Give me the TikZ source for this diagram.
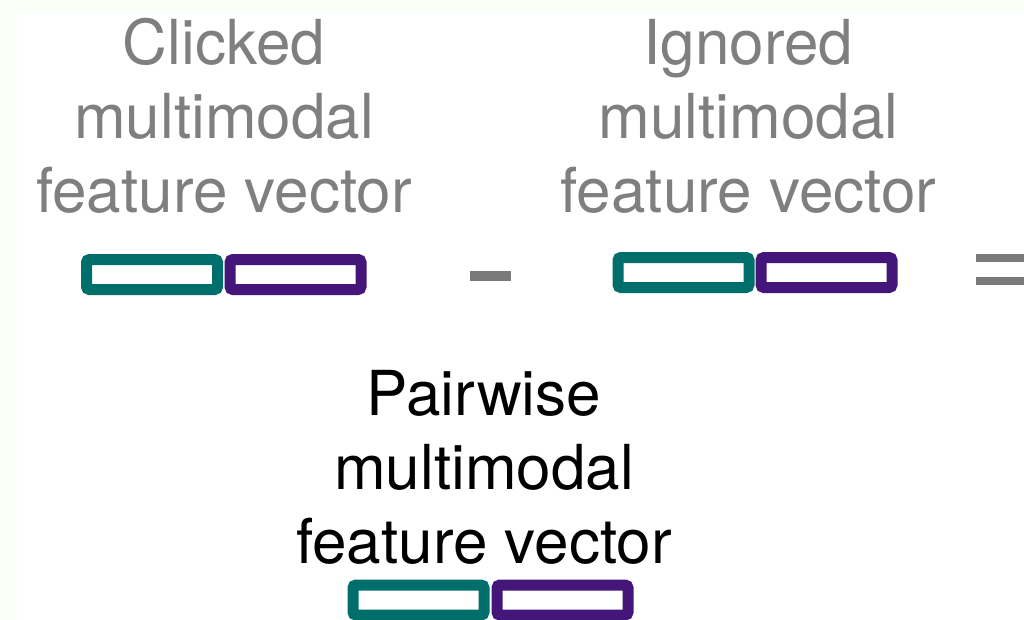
\documentclass[tikz,border=0pt]{standalone}
\usepackage{fontspec}
\setmainfont{TeX Gyre Heros}
\definecolor{tealpart}{HTML}{006E6A}
\definecolor{purplepart}{HTML}{45167A}
\definecolor{labelgray}{HTML}{7F7F7F}
\definecolor{opgray}{HTML}{7A7A7A}
\definecolor{paper}{HTML}{FAFFF8}
\begin{document}
\begin{tikzpicture}[x=1pt,y=-1pt,
  % anchor=base sits on the baseline of the last line of a label
  label/.style={align=center,inner sep=0pt,anchor=base,
    font=\fontsize{62}{74}\selectfont},
  half/.style={draw=#1,line width=11pt,rounded corners=3pt,fill=white,
    minimum width=131pt,minimum height=30pt,inner sep=0pt},
  op/.style={fill=opgray,draw=none}]
  % canvas: tinted strip on top and left, white sheet elsewhere
  \useasboundingbox (0,0) rectangle (1024,620);
  \fill[paper] (0,0) rectangle (1024,620);
  \fill[white] (17,14) rectangle (1024,620);

  % clicked vector
  \node[label,text=labelgray] (clicked) at (224,213)
    {Clicked\\multimodal\\feature vector};
  \node[half=tealpart]   (c1) at (152,274.5) {};
  \node[half=purplepart] (c2) at (295.5,274.5) {};

  % minus sign
  \path[op] (470,271) rectangle (511,281);

  % ignored vector
  \node[label,text=labelgray] (ignored) at (748.5,213)
    {Ignored\\multimodal\\feature vector};
  \node[half=tealpart]   (i1) at (683.5,272.5) {};
  \node[half=purplepart] (i2) at (826.5,272.5) {};

  % equals sign, running off the right edge
  \path[op] (976,254) rectangle (1030,262);
  \path[op] (976,277) rectangle (1030,285);

  % resulting pairwise vector
  \node[label,text=black] (pairwise) at (484,563)
    {Pairwise\\multimodal\\feature vector};
  \node[half=tealpart]   (p1) at (418.5,600) {};
  \node[half=purplepart] (p2) at (562.5,600) {};
\end{tikzpicture}
\end{document}
